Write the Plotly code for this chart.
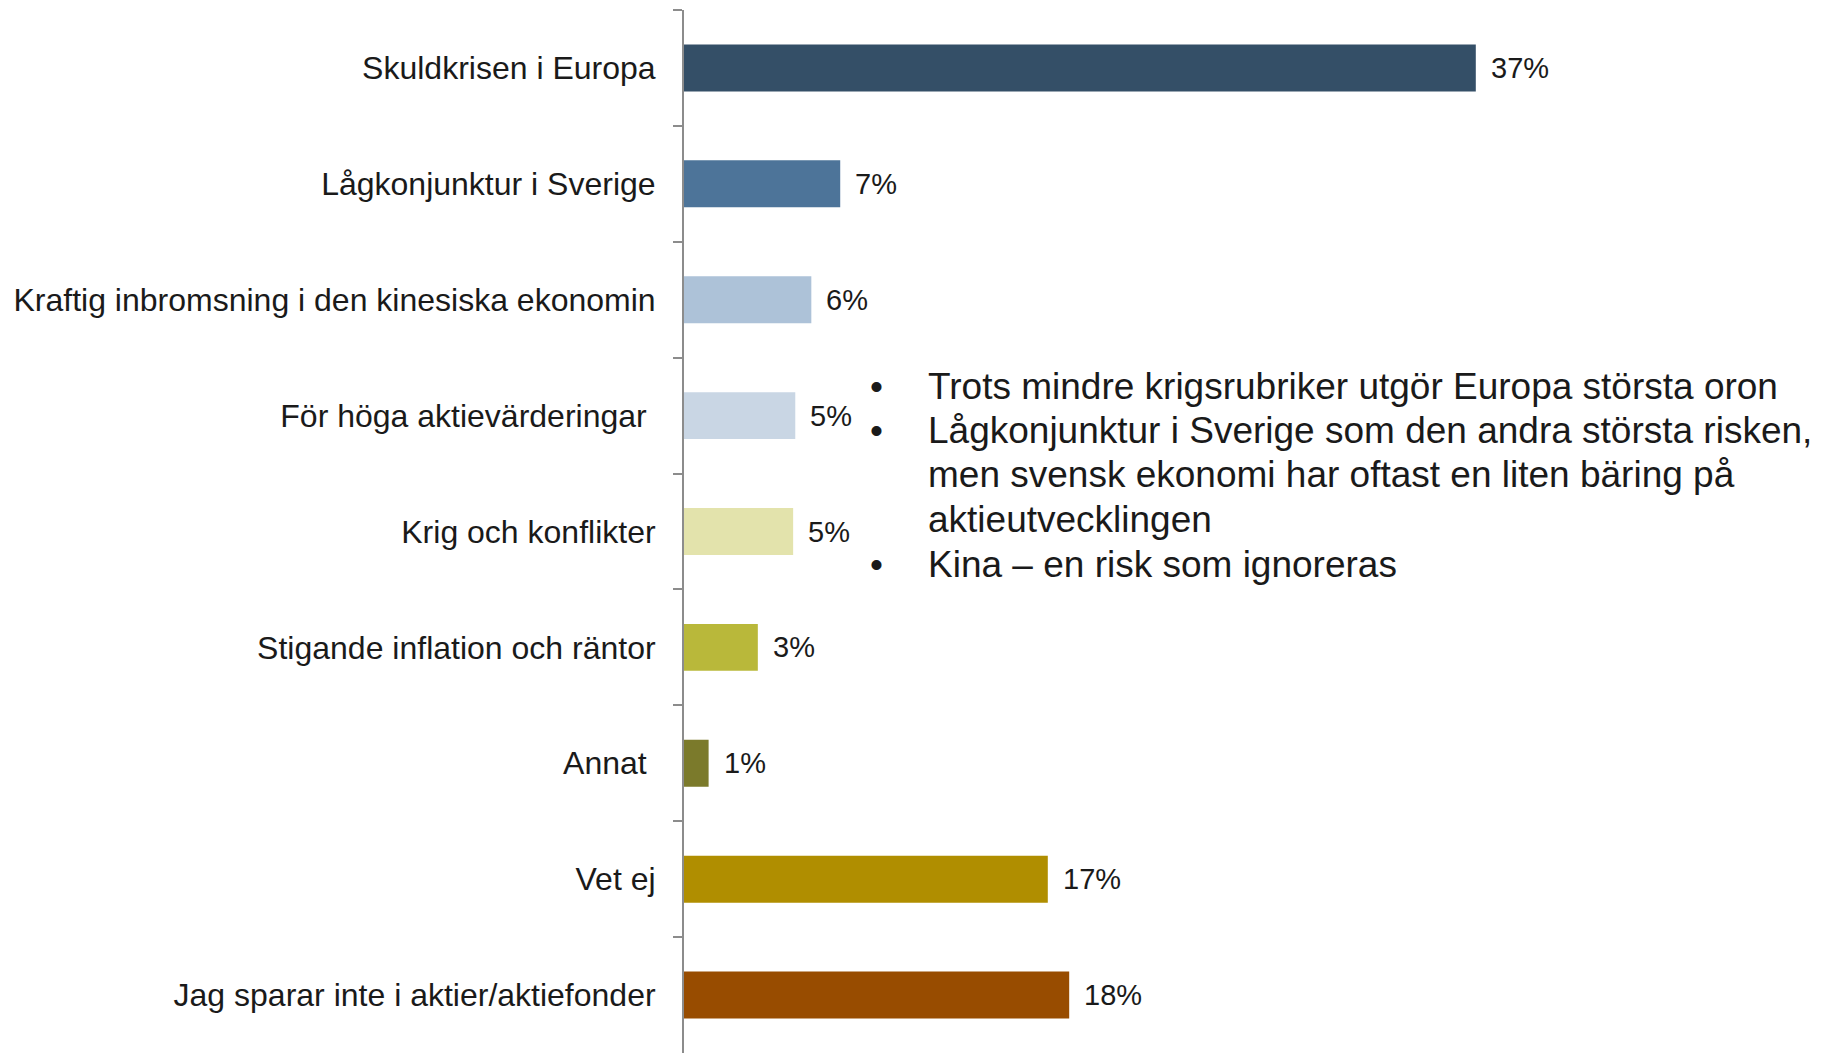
import plotly.graph_objects as go

categories = [
    "Skuldkrisen i Europa",
    "Lågkonjunktur i Sverige",
    "Kraftig inbromsning i den kinesiska ekonomin",
    "För höga aktievärderingar\u00a0",
    "Krig och konflikter",
    "Stigande inflation och räntor",
    "Annat\u00a0",
    "Vet ej",
    "Jag sparar inte i aktier/aktiefonder",
]
values = [37.0, 7.3, 5.95, 5.2, 5.1, 3.45, 1.15, 17.0, 18.0]
value_labels = ["37%", "7%", "6%", "5%", "5%", "3%", "1%", "17%", "18%"]
bar_colors = ["#344f67", "#4d7499", "#adc2d8", "#c9d6e4", "#e3e3ac",
              "#b9b83a", "#7b7a2b", "#b08e00", "#984c00"]

note_lines = [
    "Trots mindre krigsrubriker utgör Europa största oron",
    "Lågkonjunktur i Sverige som den andra största risken,",
    "men svensk ekonomi har oftast en liten bäring på",
    "aktieutvecklingen",
    "Kina – en risk som ignoreras",
]
note_bullets = [True, True, False, False, True]

# page body has an 8px default margin
OFF = 8
W, H = 1837 - OFF, 1053 - OFF
ML, MT, MB, MR = 684 - OFF, 10 - OFF, 0, 0
PW, PH = W - ML - MR, H - MT - MB
PX_PER_UNIT = 21.4

FONT = "Arial, 'Liberation Sans', sans-serif"
TXT = "#1a1a1a"

fig = go.Figure()
fig.add_trace(go.Bar(
    x=values, y=categories, orientation="h",
    marker=dict(color=bar_colors, line=dict(width=0)),
    width=0.405, hoverinfo="skip",
))

annotations = []
for c, v, lab in zip(categories, values, value_labels):
    annotations.append(dict(
        x=v, y=c, xref="x", yref="y", text=lab, showarrow=False,
        xanchor="left", yanchor="middle", xshift=13,
        font=dict(family=FONT, size=29, color=TXT),
    ))


def page_to_paper_x(X):
    return (X - OFF - ML) / PW


def page_to_paper_y(Y):
    return (H - MB - (Y - OFF)) / PH


line_y0, line_step = 386, 44.5
for i, (line, bullet) in enumerate(zip(note_lines, note_bullets)):
    yy = page_to_paper_y(line_y0 + i * line_step)
    annotations.append(dict(
        x=page_to_paper_x(926), y=yy, xref="paper", yref="paper",
        text=line, showarrow=False, xanchor="left", yanchor="middle",
        font=dict(family=FONT, size=37, color=TXT),
    ))
    if bullet:
        annotations.append(dict(
            x=page_to_paper_x(876), y=yy, xref="paper", yref="paper",
            text="•", showarrow=False, xanchor="center", yanchor="middle",
            font=dict(family=FONT, size=37, color=TXT),
        ))

fig.update_layout(
    width=W, height=H,
    margin=dict(l=ML, r=MR, t=MT, b=MB, pad=0),
    paper_bgcolor="white", plot_bgcolor="white",
    showlegend=False,
    annotations=annotations,
    xaxis=dict(range=[0, PW / PX_PER_UNIT], visible=False, fixedrange=True),
    yaxis=dict(
        autorange="reversed", type="category",
        showline=True, linecolor="#8c8c8c", linewidth=2,
        ticks="outside", tickson="boundaries", ticklen=9, tickwidth=2,
        tickcolor="#8c8c8c", ticklabelstandoff=20,
        showgrid=False, zeroline=False,
        tickfont=dict(family=FONT, size=32, color=TXT),
    ),
)

fig.write_html("out.html")
